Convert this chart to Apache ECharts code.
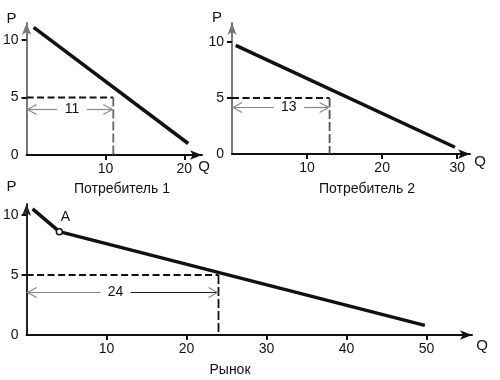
<!DOCTYPE html>
<html>
<head>
<meta charset="utf-8">
<script src="https://cdn.jsdelivr.net/npm/echarts@6/dist/echarts.min.js"></script>
<style>html,body{margin:0;padding:0;background:#fff}#c{width:500px;height:380px}</style>
</head>
<body>
<div id="c"></div>
<script>
// ---- data ----
var panelTitles = ['Потребитель 1', 'Потребитель 2', 'Рынок'];
var demand1 = [[0.9, 11.1], [20.5, 1.0]];
var demand2 = [[0.5, 9.7], [29.7, 0.6]];
var demandMarket = [[0.75, 10.5], [4.1, 8.6], [49.8, 0.8]];
var pointA = [[4.1, 8.6]];
var pointALabel = 'A';
var priceLevel = 5;
var quantities = [11, 13, 24];          // quantity demanded at P = 5
var quantityLabels = ['11', '13', '24'];
var annotLevels = [4.0, 4.2, 3.6];      // height of the bracket arrows
var xTicks = [[10, 20], [10, 20, 30], [10, 20, 30, 40, 50]];
var yTicks = [0, 5, 10];
var xMax = [22.25, 31.7, 55.7];
var yMax = [11.48, 11.7, 10.9];

var FONT = 'Liberation Sans';
var INK = '#111';

var grids = [
  {left: 24, top: 23, width: 178, height: 132},
  {left: 232, top: 23, width: 238, height: 131},
  {left: 24, top: 204, width: 448, height: 131}
];
var yAxisColor = ['#777', '#777', '#222'];
var qNameGap = [2, 10, 10];
var qNamePad = [4, 0, 3];
var pNameGap = [4, 5, 17];
var textDx = [2, 8, -7];
var vDashColor = ['#666', '#555', INK];

function xAxis(i) {
  return {
    type: 'value', gridIndex: i, min: 0, max: xMax[i],
    name: 'Q', nameLocation: 'end', nameGap: qNameGap[i],
    nameTextStyle: {fontFamily: FONT, fontSize: 15, color: INK, align: 'center', verticalAlign: 'top', padding: [qNamePad[i], 0, 0, 0]},
    axisLine: {show: true, onZero: false, symbol: ['none', 'arrow'], symbolSize: [7, 12], lineStyle: {color: INK, width: 2}},
    axisTick: {show: true, customValues: xTicks[i], length: 5, lineStyle: {color: INK, width: 2}},
    axisLabel: {customValues: xTicks[i], margin: 7, fontFamily: FONT, fontSize: 14, color: INK},
    splitLine: {show: false}
  };
}
function yAxis(i) {
  return {
    type: 'value', gridIndex: i, min: 0, max: yMax[i],
    name: 'P', nameLocation: 'end', nameGap: pNameGap[i],
    nameTextStyle: {fontFamily: FONT, fontSize: 15, color: INK, align: 'right', verticalAlign: 'middle', padding: [0, 10, 0, 0]},
    axisLine: {show: true, onZero: false, symbol: ['none', 'arrow'], symbolSize: [7, 12], lineStyle: {color: yAxisColor[i], width: 2}},
    axisTick: {show: true, customValues: [5, 10], length: 5, lineStyle: {color: INK, width: 2}},
    axisLabel: {customValues: yTicks, margin: 8, fontFamily: FONT, fontSize: 14, color: INK},
    splitLine: {show: false}
  };
}

function annot(i) {
  var lbl = quantityLabels[i];
  var leftC = '#888', rightC = i === 2 ? '#222' : '#888';
  return {
    type: 'custom', xAxisIndex: i, yAxisIndex: i, clip: false, silent: true, z: 5,
    data: [[quantities[i], annotLevels[i]]],
    renderItem: function (params, api) {
      var a = api.coord([0, api.value(1)]);
      var b = api.coord([api.value(0), api.value(1)]);
      var cx = (a[0] + b[0]) / 2 + textDx[i];
      var half = 15;
      var y = Math.round(a[1]) + 0.5;
      return {type: 'group', children: [
        {type: 'line', shape: {x1: a[0], y1: y, x2: cx - half, y2: y}, style: {stroke: leftC, lineWidth: 1.2}},
        {type: 'line', shape: {x1: cx + half, y1: y, x2: b[0] - 1, y2: y}, style: {stroke: rightC, lineWidth: 1.2}},
        {type: 'polyline', shape: {points: [[a[0] + 10, y - 5], [a[0] + 1, y], [a[0] + 10, y + 5]]}, style: {stroke: '#888', fill: null, lineWidth: 1.2}},
        {type: 'polyline', shape: {points: [[b[0] - 10, y - 5], [b[0] - 1, y], [b[0] - 10, y + 5]]}, style: {stroke: '#888', fill: null, lineWidth: 1.2}},
        {type: 'text', x: cx, y: y, style: {text: lbl, fill: INK, font: '14px "' + FONT + '"', align: 'center', verticalAlign: 'middle'}}
      ]};
    }
  };
}

function dashed(i) {
  var q = quantities[i];
  return [
    {type: 'line', xAxisIndex: i, yAxisIndex: i, symbol: 'none', silent: true, z: 3,
     data: [[0, priceLevel], [q, priceLevel]],
     lineStyle: {color: INK, width: 2, type: [7, 3.5]}},
    {type: 'line', xAxisIndex: i, yAxisIndex: i, symbol: 'none', silent: true, z: 3,
     data: [[q, priceLevel], [q, 0]],
     lineStyle: {color: vDashColor[i], width: 1.8, type: [9, 3]}}
  ];
}

function curve(i, d) {
  return {type: 'line', xAxisIndex: i, yAxisIndex: i, symbol: 'none', silent: true, z: 4,
    data: d, lineStyle: {color: INK, width: 3.5}};
}

var series = [];
[demand1, demand2, demandMarket].forEach(function (d, i) {
  series = series.concat(dashed(i));
  series.push(curve(i, d));
  series.push(annot(i));
});
series.push({
  type: 'scatter', xAxisIndex: 2, yAxisIndex: 2, data: pointA, z: 6, silent: true,
  symbol: 'circle', symbolSize: 6,
  itemStyle: {color: '#fff', borderColor: INK, borderWidth: 1.5, opacity: 1},
  label: {show: true, formatter: pointALabel, position: 'top', offset: [6, 0], distance: 4,
          fontFamily: FONT, fontSize: 14, color: INK}
});

var option = {
  animation: false,
  backgroundColor: '#fff',
  textStyle: {fontFamily: FONT},
  title: [
    {text: panelTitles[0], left: 122, top: 182, textAlign: 'center', padding: 0,
     textStyle: {fontFamily: FONT, fontSize: 14, fontWeight: 'normal', color: INK}},
    {text: panelTitles[1], left: 367, top: 182, textAlign: 'center', padding: 0,
     textStyle: {fontFamily: FONT, fontSize: 14, fontWeight: 'normal', color: INK}},
    {text: panelTitles[2], left: 230, top: 363, textAlign: 'center', padding: 0,
     textStyle: {fontFamily: FONT, fontSize: 14, fontWeight: 'normal', color: INK}}
  ],
  grid: grids,
  xAxis: [xAxis(0), xAxis(1), xAxis(2)],
  yAxis: [yAxis(0), yAxis(1), yAxis(2)],
  series: series
};

var chart = echarts.init(document.getElementById('c'), null, {renderer: 'canvas'});
chart.setOption(option);
</script>
</body>
</html>
